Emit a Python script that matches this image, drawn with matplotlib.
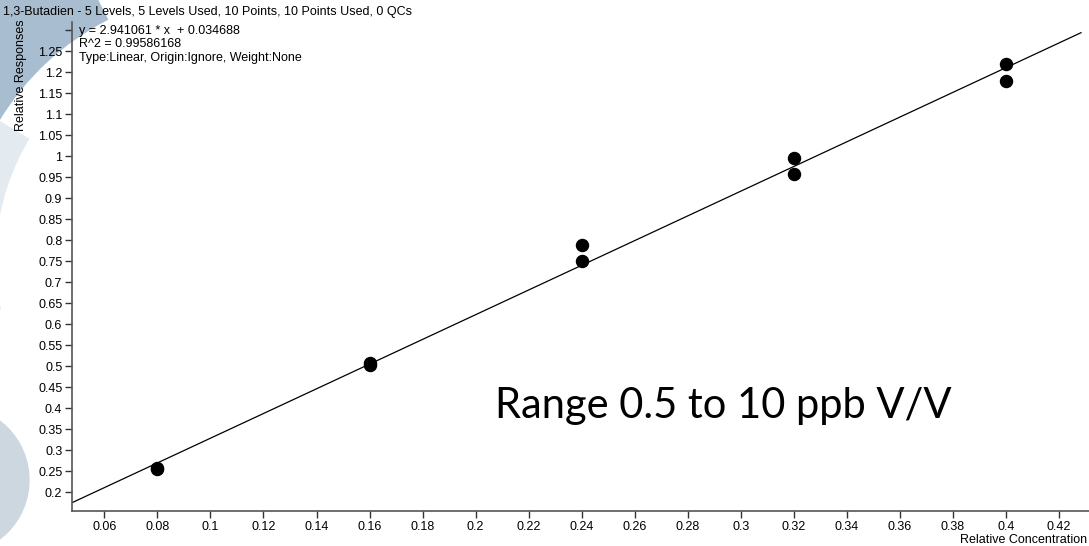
import numpy as np
import matplotlib.pyplot as plt
from matplotlib.patches import Wedge, Circle
from matplotlib.transforms import IdentityTransform

plt.rcParams['font.family'] = ['Liberation Sans', 'DejaVu Sans']

# 数据
conc = [0.08, 0.08, 0.16, 0.16, 0.24, 0.24, 0.32, 0.32, 0.40, 0.40]
resp = [0.255, 0.258, 0.502, 0.507, 0.751, 0.789, 0.958, 0.997, 1.179, 1.220]
slope, intercept = 2.941061, 0.034688
r2 = 0.99586168
xticks = [0.06, 0.08, 0.1, 0.12, 0.14, 0.16, 0.18, 0.2, 0.22, 0.24, 0.26,
          0.28, 0.3, 0.32, 0.34, 0.36, 0.38, 0.4, 0.42]
yticks = [0.2, 0.25, 0.3, 0.35, 0.4, 0.45, 0.5, 0.55, 0.6, 0.65, 0.7, 0.75,
          0.8, 0.85, 0.9, 0.95, 1, 1.05, 1.1, 1.15, 1.2, 1.25, 1.3]
title = '1,3-Butadien - 5 Levels, 5 Levels Used, 10 Points, 10 Points Used, 0 QCs'
note = 'Range 0.5 to 10 ppb V/V'

W, H = 1089, 546
fig = plt.figure(figsize=(W/100, H/100), dpi=100)

# 背景装饰（像素坐标，原点左上）
def px(x, y): return (x, H - y)
T = IdentityTransform()
dark = Wedge(px(230, 260), 520, 117, 149, width=250, transform=T,
             color='#a9bdd0', zorder=-5)
light = Wedge(px(230, 260), 520, 149, 192, width=285, transform=T,
              color='#e3eaf0', zorder=-5)
circ = Circle(px(-45, 480), 74, transform=T, color='#cdd7e0', zorder=-5)
fig.patches.extend([light, dark, circ])

ax = fig.add_axes([72/W, 1 - 511/H, 1 - 72/W, (511 - 22)/H])
ax.patch.set_alpha(0)
xmin, xmax = 0.0478, 0.4313
ymin, ymax = 0.1555, 1.3198
ax.set_xlim(xmin, xmax)
ax.set_ylim(ymin, ymax)

xl = np.array([xmin, 0.4283])
ax.plot(xl, slope*xl + intercept, '-k', lw=0.9, zorder=2)
ax.scatter(conc, resp, s=75, c='k', zorder=3, clip_on=False)

for s in ['top', 'right']:
    ax.spines[s].set_visible(False)
for s in ['left', 'bottom']:
    ax.spines[s].set_color('#555555')
    ax.spines[s].set_linewidth(1.2)
ax.set_xticks(xticks)
ax.set_xticklabels([f'{v:g}' for v in xticks])
ax.set_yticks(yticks)
ax.set_yticklabels([f'{v:g}' if v < 1.3 else '' for v in yticks])
ax.tick_params(direction='out', length=5, width=1, color='#333333',
               labelsize=9, pad=2)

fig.text(3/W, 1 - 12/H, title, fontsize=9, va='center', ha='left')
fig.text(79/W, 1 - 31/H, f'y = {slope:.6f} * x  + {intercept:.6f}',
         fontsize=9, va='center')
fig.text(79/W, 1 - 44/H, f'R^2 = {r2:.8f}', fontsize=9, va='center')
fig.text(79/W, 1 - 58/H, 'Type:Linear, Origin:Ignore, Weight:None',
         fontsize=9, va='center')
fig.text(21/W, 1 - 75/H, 'Relative Responses', rotation=90, fontsize=9,
         va='center', ha='center')
fig.text(1087/W, 1 - 540/H, 'Relative Concentration', fontsize=9,
         va='center', ha='right')
fig.text(495/W, 1 - 418/H, note, fontsize=30, family=['Lato', 'DejaVu Sans'],
         va='baseline', ha='left')

fig.savefig('out.png', dpi=100)
